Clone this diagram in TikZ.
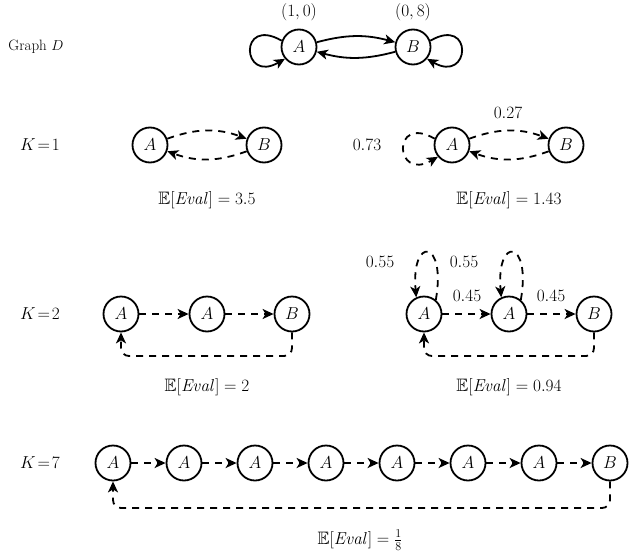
\documentclass[tikz,border=0pt]{standalone}
\usepackage{amsfonts}
\usetikzlibrary{arrows.meta}
\begin{document}
\begin{tikzpicture}[x=1pt,y=-1pt,
 st/.style={circle,draw,line width=1.8pt,minimum size=35pt,inner sep=0pt,font=\fontsize{18}{20}\selectfont},
 ar/.style={line width=1.8pt,-{Stealth[length=11pt,width=10pt,inset=3pt]}},
 da/.style={ar,dash pattern=on 7pt off 6pt},
 lb/.style={font=\fontsize{18}{20}\selectfont}]
\useasboundingbox (0,0) rectangle (634,554);
% Graph D
\node[font=\fontsize{15}{17}\selectfont] (gd) at (36,47) {Graph $D$};
\node[st] (dA) at (299,47) {$A$};
\node[st] (dB) at (413,47) {$B$};
\node[lb] (la) at (299,12) {$(1,0)$};
\node[lb] (lbb) at (413,12) {$(0,8)$};
\draw[ar] (dA) to[bend left=15] (dB);
\draw[ar] (dB) to[bend left=15] (dA);
\draw[ar] (dA.160) to[out=150,in=210,looseness=7] (dA.220);
\draw[ar] (dB.20) to[out=30,in=-30,looseness=7] (dB.-40);
% K=1
\node[lb] (k1) at (40,145) {$K\!=\!1$};
\node[st] (a1) at (150,145) {$A$};
\node[st] (b1) at (264,145) {$B$};
\draw[da] (a1) to[bend left=20] (b1);
\draw[da] (b1) to[bend left=20] (a1);
\node[lb] (e1) at (207,200) {$\mathbb{E}[\mathit{Eval}]=3.5$};
\node[st] (a1r) at (452,145) {$A$};
\node[st] (b1r) at (566,145) {$B$};
\draw[da] (a1r) to[bend left=20] (b1r);
\draw[da] (b1r) to[bend left=20] (a1r);
\node[lb] (l27) at (508,113) {$0.27$};
\draw[da] (a1r.160) to[out=150,in=210,looseness=7] (a1r.220);
\node[lb] (l73) at (367,145) {$0.73$};
\node[lb] (e1r) at (509,200) {$\mathbb{E}[\mathit{Eval}]=1.43$};
% K=2
\node[lb] (k2) at (40,314) {$K\!=\!2$};
\node[st] (a2) at (121,314) {$A$};
\node[st] (c2) at (207,314) {$A$};
\node[st] (b2) at (292,314) {$B$};
\draw[da] (a2) -- (c2);
\draw[da] (c2) -- (b2);
\draw[da,rounded corners=8pt] (b2.south) -- (292,356) -- (121,356) -- (a2.south);
\node[lb] (e2) at (207,387) {$\mathbb{E}[\mathit{Eval}]=2$};
\node[st] (a2r) at (424,314) {$A$};
\node[st] (c2r) at (509,314) {$A$};
\node[st] (b2r) at (594,314) {$B$};
\draw[da] (a2r) -- (c2r);
\draw[da] (c2r) -- (b2r);
\node[lb] (l45a) at (467,296) {$0.45$};
\node[lb] (l45b) at (551,296) {$0.45$};
\draw[da,rounded corners=8pt] (b2r.south) -- (594,356) -- (424,356) -- (a2r.south);
\draw[da] (a2r.50) to[out=80,in=95,looseness=8] (a2r.115);
\draw[da] (c2r.50) to[out=80,in=95,looseness=8] (c2r.115);
\node[lb] (l55a) at (380,262) {$0.55$};
\node[lb] (l55b) at (464,262) {$0.55$};
\node[lb] (e2r) at (509,387) {$\mathbb{E}[\mathit{Eval}]=0.94$};
% K=7
\node[lb] (k7) at (40,463) {$K\!=\!7$};
\foreach \i/\x in {1/113,2/184,3/255,4/326,5/397,6/468,7/539}
  \node[st] (n\i) at (\x,463) {$A$};
\node[st] (n8) at (610,463) {$B$};
\foreach \i/\j in {1/2,2/3,3/4,4/5,5/6,6/7,7/8}
  \draw[da] (n\i) -- (n\j);
\draw[da,rounded corners=8pt] (n8.south) -- (610,508) -- (113,508) -- (n1.south);
\node[lb] (e7) at (360,540) {$\mathbb{E}[\mathit{Eval}]=\frac{1}{8}$};
\end{tikzpicture}
\end{document}
